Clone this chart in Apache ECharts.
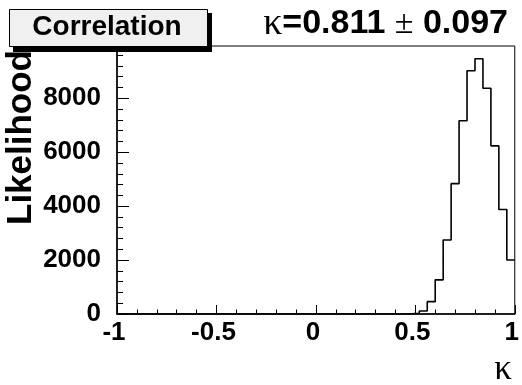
<!DOCTYPE html>
<html><head><meta charset="utf-8">
<script src="https://cdn.jsdelivr.net/npm/echarts@6/dist/echarts.min.js"></script>
<style>html,body{margin:0;padding:0;background:#fff}#c{width:522px;height:385px}</style>
</head><body><div id="c"></div>
<script>
// Histogram: 50 bins from -1 to 1 (width 0.04)
const xMin = -1, xMax = 1, binWidth = 0.04;
const counts = [
  0,0,0,0,0,0,0,0,0,0,
  0,0,0,0,0,0,0,0,0,0,
  0,0,0,0,0,0,0,0,0,0,
  0,0,0,0,0,0,8,30,112,458,
  1267,2747,4834,7168,9020,9467,8375,6236,3876,2001
];
const xTicks = [-1, -0.5, 0, 0.5, 1];
const yTicks = [0, 2000, 4000, 6000, 8000];
const yMax = 9940;
const titleText = 'Correlation';
const xTitle = 'κ';
const yTitle = 'Likelihood';

const stepData = counts.map((c, i) => [xMin + i * binWidth, c]);
stepData.push([xMax, counts[counts.length - 1]]);

const chart = echarts.init(document.getElementById('c'), null, {renderer: 'canvas'});
const FONT = '"Liberation Sans", Arial, Helvetica, sans-serif';
const SERIF = '"Liberation Serif", "Times New Roman", serif';
chart.setOption({
  animation: false,
  backgroundColor: '#fff',
  grid: {left: 117, right: 7, top: 46, bottom: 71, show: true, borderColor: '#000', borderWidth: 1, backgroundColor: 'transparent'},
  xAxis: {
    type: 'value', min: xMin, max: xMax, interval: 0.5,
    axisLine: {onZero: false, lineStyle: {color: '#000', width: 1.5}},
    axisTick: {inside: true, length: 9, lineStyle: {color: '#000', width: 1}},
    minorTick: {show: true, splitNumber: 5, length: 4.5, lineStyle: {color: '#000', width: 1}},
    splitLine: {show: false}, minorSplitLine: {show: false},
    axisLabel: {color: '#000', fontFamily: FONT, fontWeight: 'bold', fontSize: 26, margin: 6,
      padding: [0, 6, 0, 0],
      formatter: v => xTicks.indexOf(v) >= 0 ? String(v) : ''}
  },
  yAxis: {
    type: 'value', min: 0, max: yMax, interval: 2000,
    axisLine: {show: true, onZero: false, lineStyle: {color: '#000', width: 1.5}},
    axisTick: {show: true, inside: true, length: 12, lineStyle: {color: '#000', width: 1}},
    minorTick: {show: true, splitNumber: 5, length: 6, lineStyle: {color: '#000', width: 1}},
    splitLine: {show: false}, minorSplitLine: {show: false},
    axisLabel: {color: '#000', fontFamily: FONT, fontWeight: 'bold', fontSize: 26, margin: 16,
      showMaxLabel: false,
      formatter: v => yTicks.indexOf(v) >= 0 ? String(v) : ''}
  },
  series: [{
    type: 'line', step: 'end', data: stepData, showSymbol: false, symbol: 'none',
    lineStyle: {color: '#000', width: 1.6}, z: 5
  }],
  graphic: [
    {type: 'rect', z: 100, shape: {x: 13, y: 13, width: 199, height: 39}, style: {fill: '#000'}},
    {type: 'rect', z: 101, shape: {x: 9.5, y: 9.5, width: 198, height: 37}, style: {fill: '#f0f0f0', stroke: '#000', lineWidth: 1}},
    {type: 'text', z: 102, x: 107, y: 27, style: {text: titleText, font: 'bold 28px ' + FONT, fill: '#000', textAlign: 'center', textVerticalAlign: 'middle'}},
    {type: 'text', z: 102, x: 508, y: 24, style: {
      text: '{k|κ}{b|=0.811 }{s|±}{b| 0.097}',
      textAlign: 'right', textVerticalAlign: 'middle', fill: '#000',
      rich: {
        k: {fontFamily: SERIF, fontSize: 38, fill: '#000', color: '#000'},
        b: {fontFamily: FONT, fontWeight: 'bold', fontSize: 34, fill: '#000', color: '#000'},
        s: {fontFamily: SERIF, fontSize: 34, fill: '#000', color: '#000'}
      }
    }},
    {type: 'text', z: 102, x: 21, y: 50, rotation: Math.PI / 2, style: {text: yTitle, font: 'bold 35px ' + FONT, fill: '#000', textAlign: 'right', textVerticalAlign: 'middle'}},
    {type: 'text', z: 102, x: 503, y: 370, style: {text: xTitle, font: '35px ' + SERIF, fill: '#000', textAlign: 'center', textVerticalAlign: 'middle'}}
  ]
});
</script>
</body></html>
